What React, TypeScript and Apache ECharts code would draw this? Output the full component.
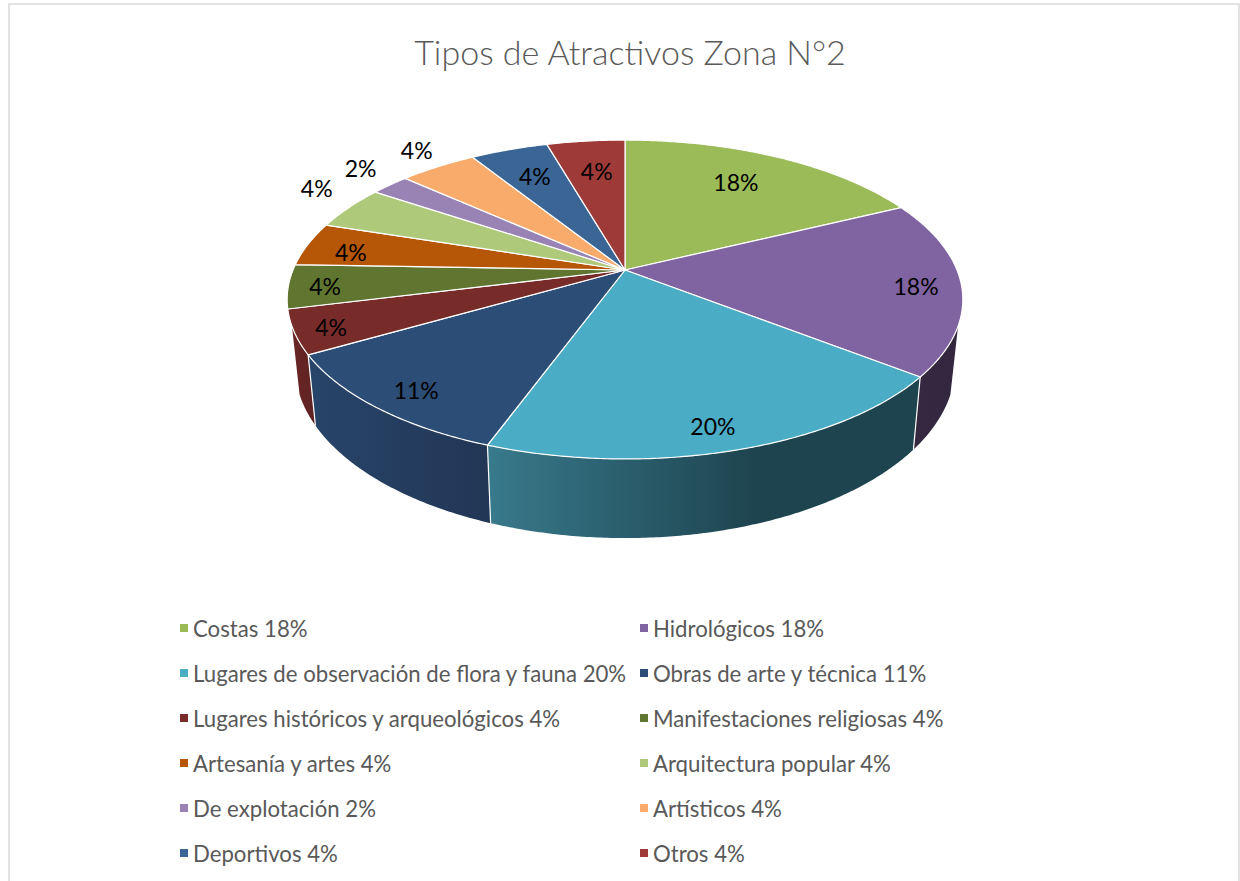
import React, { useEffect, useRef } from "react";
import * as echarts from "echarts";

const titleText = "Tipos de Atractivos Zona N°2";
const categories = [
  "Costas", "Hidrológicos", "Lugares de observación de flora y fauna", "Obras de arte y técnica",
  "Lugares históricos y arqueológicos", "Manifestaciones religiosas", "Artesanía y artes", "Arquitectura popular",
  "De explotación", "Artísticos", "Deportivos", "Otros",
];
const shares = [17.78, 17.78, 20, 11.11, 4.44, 4.44, 4.44, 4.44, 2.22, 4.44, 4.44, 4.47];
const percentLabels = ["18%", "18%", "20%", "11%", "4%", "4%", "4%", "4%", "2%", "4%", "4%", "4%"];

const colors = ["#9BBB59", "#8064A2", "#4BACC6", "#2C4D75", "#772C2A", "#5F7530", "#B65708", "#AFC97A", "#9983B5", "#F9AB6B", "#3A6595", "#9E3B38"];
// placement of every value label: radial reach (1 = rim of the pie) and turn from the slice's middle, in degrees
const labelReach = [0.74, 0.866, 0.88, 0.875, 0.898, 0.892, 0.852, 1.186, 1.18, 1.168, 0.753, 0.736];
const labelTurn = [-1.7, 0.8, 1.3, -1.1, -0.7, -0.6, -2, 3.8, 1.8, 1.2, 0.1, 0.5];
// horizontal shading of the visible walls
const wallShades: Record<number, [string, string, number]> = {
  1: ["#352840", "#332740", 1],
  2: ["#387A8C", "#1E444F", 0.62],
  3: ["#27456A", "#223655", 1],
  4: ["#6A2626", "#5E2222", 1],
};

const total = shares.reduce((a, b) => a + b, 0);
const startFractions: number[] = [];
shares.reduce((acc, v, i) => { startFractions[i] = acc / total; return acc + v; }, 0);

// perspective projection of the pie's disc
const CX = 625, CY = 270, RX = 332, RY = 154, PERSP = 0.185;
const WALL_FROM = 110, WALL_TO = 250;
const rad = (d: number) => (d * Math.PI) / 180;
const project = (deg: number, r = 1): [number, number] => {
  const s = Math.sin(rad(deg)), c = Math.cos(rad(deg));
  const w = 1 + PERSP * r * c;
  return [CX + (RX * r * s) / w, CY - (RY * r * c) / w];
};
const below = ([x, y]: [number, number]): [number, number] => [
  CX + (x - CX) * 0.977,
  y + 72 + (y - 370) * 0.08,
];
const arc = (from: number, to: number) => {
  const pts: [number, number][] = [];
  const steps = Math.max(2, Math.ceil((to - from) * 2));
  for (let k = 0; k <= steps; k++) pts.push(project(from + ((to - from) * k) / steps));
  return pts;
};

const legendName = (i: number) => `${categories[i]} ${percentLabels[i]}`;

const topSeries = categories.map((_, i) => ({
  type: "custom",
  name: legendName(i),
  coordinateSystem: "none",
  z: 3,
  silent: true,
  itemStyle: { color: colors[i] },
  data: [[shares[i], startFractions[i]]],
  renderItem: (_p: any, api: any) => {
    const from = api.value(1) * 360;
    const to = from + (api.value(0) / total) * 360;
    return {
      type: "polygon",
      shape: { points: [[CX, CY], ...arc(from, to)] },
      style: { fill: colors[i], stroke: "#ffffff", lineWidth: 1.2, lineJoin: "round" },
    };
  },
}));

const wallSeries = {
  type: "custom",
  coordinateSystem: "none",
  z: 2,
  silent: true,
  data: shares.map((v, i) => [v, startFractions[i], i]),
  renderItem: (_p: any, api: any) => {
    const i = api.value(2);
    const from = api.value(1) * 360;
    const to = from + (api.value(0) / total) * 360;
    const a = Math.max(from, WALL_FROM), b = Math.min(to, WALL_TO);
    if (b <= a) return { type: "group", children: [] };
    const topEdge = arc(a, b);
    const shade = wallShades[i];
    const children: any[] = [
      {
        type: "polygon",
        shape: { points: [...topEdge, ...topEdge.map(below).reverse()] },
        style: {
          fill: new echarts.graphic.LinearGradient(0, 0, 1, 0, [
            { offset: 0, color: shade[0] },
            { offset: shade[2], color: shade[1] },
            { offset: 1, color: shade[1] },
          ]),
        },
      },
    ];
    if (from >= WALL_FROM) {
      const p = project(from), q = below(p);
      children.push({
        type: "line",
        z2: 5,
        shape: { x1: p[0], y1: p[1], x2: q[0], y2: q[1] },
        style: { stroke: "#ffffff", lineWidth: 1.2 },
      });
    }
    return { type: "group", children };
  },
};

const labelSeries = {
  type: "custom",
  coordinateSystem: "none",
  z: 4,
  silent: true,
  data: shares.map((v, i) => [v, startFractions[i], i]),
  renderItem: (_p: any, api: any) => {
    const i = api.value(2);
    const mid = (api.value(1) + api.value(0) / total / 2) * 360 + labelTurn[i];
    const [x, y] = project(mid, labelReach[i]);
    return {
      type: "text",
      x,
      y,
      style: {
        text: percentLabels[i],
        fill: "#000000",
        font: "23px Lato",
        align: "center",
        verticalAlign: "middle",
      },
    };
  },
};

const legendBase = {
  orient: "vertical" as const,
  top: 611,
  icon: "rect",
  itemWidth: 8,
  itemHeight: 8,
  itemGap: 21,
  selectedMode: false,
  textStyle: { color: "#595959", fontFamily: "Lato", fontSize: 22.2, lineHeight: 24 },
};

export default function App() {
  const ref = useRef<HTMLDivElement>(null);
  useEffect(() => {
    const chart = echarts.init(ref.current!, undefined, { renderer: "svg" });
    chart.setOption({
      animation: false,
      backgroundColor: "#ffffff",
      title: {
        text: titleText,
        left: 625,
        top: 29,
        textAlign: "center",
        textStyle: { color: "#595959", fontFamily: "Lato", fontSize: 34, fontWeight: 300 },
      },
      legend: [
        { ...legendBase, left: 175, data: categories.map((_, i) => legendName(i)).filter((_, i) => i % 2 === 0) },
        { ...legendBase, left: 635, data: categories.map((_, i) => legendName(i)).filter((_, i) => i % 2 === 1) },
      ],
      graphic: [
        {
          type: "rect",
          silent: true,
          shape: { x: 9, y: 4, width: 1230, height: 900 },
          style: { fill: "none", stroke: "#d9d9d9", lineWidth: 1.5 },
        },
      ],
      series: [wallSeries, ...topSeries, labelSeries],
    });
    return () => chart.dispose();
  }, []);
  return <div ref={ref} style={{ position: "fixed", left: 0, top: 0, width: 1240, height: 881 }} />;
}
